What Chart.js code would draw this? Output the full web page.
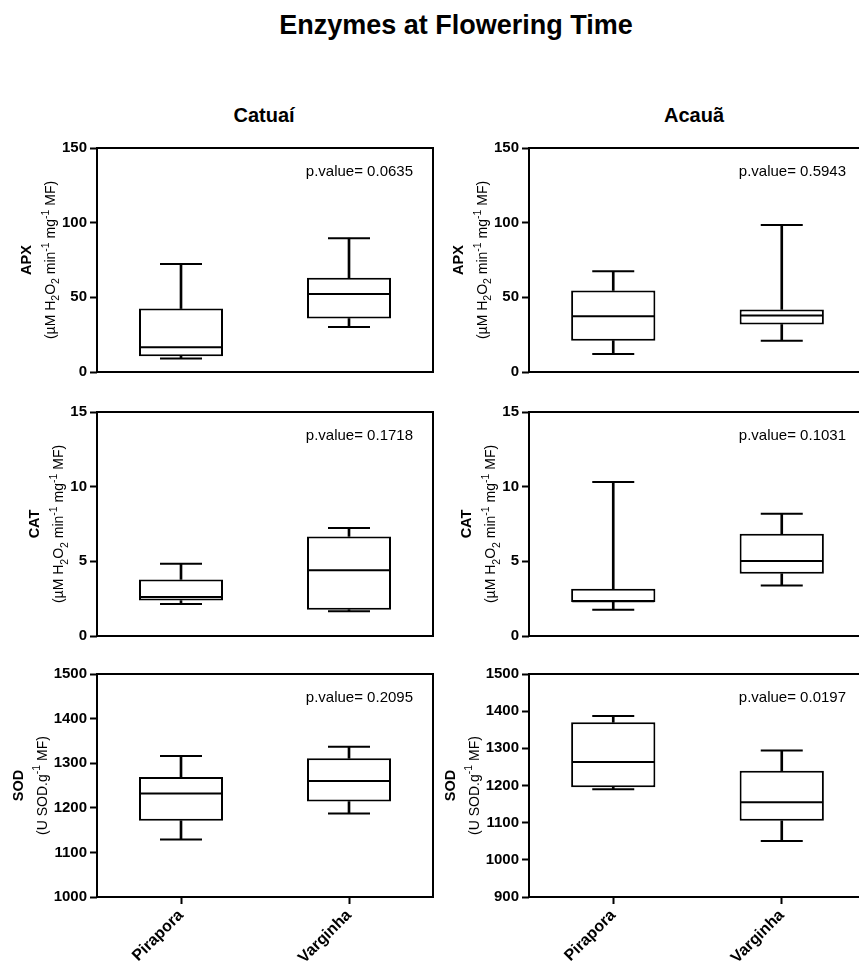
<!DOCTYPE html>
<html>
<head>
<meta charset="utf-8">
<script src="https://cdn.jsdelivr.net/npm/chart.js@4.4.0/dist/chart.umd.min.js"></script>
<style>
  body { margin: 0; width: 859px; height: 966px; overflow: hidden; background: #fff; position: relative;
         font-family: "Liberation Sans", Arial, sans-serif; }
  .t { position: absolute; font-weight: bold; white-space: nowrap; line-height: 1; transform: translateX(-50%); color: #000; }
  canvas { position: absolute; }
</style>
</head>
<body>
<div class="t" style="left:456px; top:12px; font-size:27px;">Enzymes at Flowering Time</div>
<div class="t" style="left:264px; top:105px; font-size:20px;">Catuaí</div>
<div class="t" style="left:694px; top:105px; font-size:20px;">Acauã</div>
<script>
const FONT = '"Liberation Sans", Arial, sans-serif';

const groups = ['Pirapora', 'Varginha'];

// five-number summaries per group: [min, q1, median, q3, max]
const catuaiApx = [[9.0, 10.5, 16.6, 42.5, 72.3], [30.2, 35.8, 52.2, 63.1, 89.6]];
const acauaApx  = [[12.1, 21.0, 37.4, 54.6, 67.4], [21.0, 31.8, 37.8, 41.9, 98.5]];
const catuaiCat = [[2.14, 2.37, 2.61, 3.79, 4.84], [1.65, 1.76, 4.40, 6.67, 7.23]];
const acauaCat  = [[1.76, 2.28, 2.32, 3.17, 10.31], [3.39, 4.17, 5.02, 6.85, 8.19]];
const catuaiSod = [[1129, 1171, 1232, 1269, 1316], [1187, 1214, 1260, 1311, 1337]];
const acauaSod  = [[1190, 1195, 1263, 1370, 1387], [1051, 1105, 1155, 1240, 1294]];

const catuaiPValues = ['0.0635', '0.1718', '0.2095'];
const acauaPValues  = ['0.5943', '0.1031', '0.0197'];

// [min, max, step]
const apxAxis = [0, 150, 50];
const catAxis = [0, 15, 5];
const sodAxisCatuai = [1000, 1500, 100];
const sodAxisAcaua = [900, 1500, 100];

const h2o2Unit = [['(µM H'], ['2', 'sub'], ['O'], ['2', 'sub'], [' min'], ['-1', 'sup'], [' mg'], ['-1', 'sup'], [' MF)']];
const sodUnit = [['(U SOD.g'], ['-1', 'sup'], [' MF)']];

function drawRich(ctx, segs, size) {
  const fs = s => (s[1] ? size * 0.75 : size);
  let w = 0;
  segs.forEach(s => { ctx.font = fs(s) + 'px ' + FONT; w += ctx.measureText(s[0]).width; });
  let x = -w / 2;
  ctx.textAlign = 'left';
  ctx.textBaseline = 'alphabetic';
  const base = size * 0.36;
  segs.forEach(s => {
    ctx.font = fs(s) + 'px ' + FONT;
    const dy = s[1] === 'sub' ? size * 0.3 : s[1] === 'sup' ? -size * 0.45 : 0;
    ctx.fillText(s[0], x, base + dy);
    x += ctx.measureText(s[0]).width;
  });
}

function makeDecor(pValue, name, unit) {
  return {
    id: 'decor',
    afterDraw(chart) {
      const ctx = chart.ctx, a = chart.chartArea;
      ctx.save();
      ctx.strokeStyle = '#000';
      ctx.lineWidth = 2;
      ctx.strokeRect(a.left, a.top, a.right - a.left, a.bottom - a.top);

      ctx.fillStyle = '#000';
      ctx.font = '15px ' + FONT;
      ctx.textAlign = 'right';
      ctx.textBaseline = 'middle';
      ctx.fillText('p.value= ' + pValue, a.right - 20, a.top + 24);

      // y axis title, placed left of the widest tick label
      ctx.font = 'bold 15px ' + FONT;
      let maxW = 0;
      chart.scales.y.ticks.forEach(t => { maxW = Math.max(maxW, ctx.measureText(String(t.value)).width); });
      const labelLeft = a.left - 10 - maxW;
      const subX = labelLeft - 12;
      const boldX = subX - 23;
      const cy = (a.top + a.bottom) / 2;

      ctx.save();
      ctx.translate(boldX, cy);
      ctx.rotate(-Math.PI / 2);
      ctx.font = 'bold 14.5px ' + FONT;
      ctx.textAlign = 'center';
      ctx.textBaseline = 'middle';
      ctx.fillText(name, 0, 0);
      ctx.restore();

      ctx.save();
      ctx.translate(subX, cy);
      ctx.rotate(-Math.PI / 2);
      drawRich(ctx, unit, 14);
      ctx.restore();

      ctx.restore();
    }
  };
}

function panel(x, y, stats, axis, pValue, name, unit, bottomRow, rightPad) {
  const c = document.createElement('canvas');
  c.width = 440;
  c.height = bottomRow ? 306 : 250;
  c.style.left = x + 'px';
  c.style.top = y + 'px';
  document.body.appendChild(c);

  const capStyle = r => ({ type: 'line', showLine: false, pointStyle: 'line', pointRadius: r, pointHoverRadius: r,
                           pointBorderWidth: 2, pointBorderColor: '#000', borderColor: '#000', order: 0, clip: false });

  new Chart(c, {
    data: {
      labels: groups,
      datasets: [
        { type: 'bar', data: stats.map(v => [v[0], v[1]]), backgroundColor: '#000', borderWidth: 0,
          barThickness: 2, grouped: false, order: 3 },
        { type: 'bar', data: stats.map(v => [v[3], v[4]]), backgroundColor: '#000', borderWidth: 0,
          barThickness: 2, grouped: false, order: 3 },
        { type: 'bar', data: stats.map(v => [v[1], v[3]]), backgroundColor: '#fff', borderColor: '#000',
          borderWidth: 2, borderSkipped: false, barPercentage: 0.5, categoryPercentage: 1, grouped: false, order: 2 },
        Object.assign({ data: stats.map(v => v[2]) }, capStyle(41)),
        Object.assign({ data: stats.map(v => v[0]) }, capStyle(21)),
        Object.assign({ data: stats.map(v => v[4]) }, capStyle(21))
      ]
    },
    options: {
      responsive: false,
      animation: false,
      events: [],
      layout: { autoPadding: false, padding: { top: 14, right: rightPad, bottom: bottomRow ? 0 : 12, left: 0 } },
      plugins: { legend: { display: false }, tooltip: { enabled: false } },
      scales: {
        x: {
          type: 'category',
          offset: true,
          display: bottomRow,
          border: { display: false },
          grid: { offset: false, drawOnChartArea: false, tickLength: 7, tickWidth: 2, tickColor: '#000' },
          ticks: { color: '#000', font: { family: FONT, size: 16, weight: 'bold' }, minRotation: 45, maxRotation: 45, padding: 2 },
          afterFit: s => { s.height = bottomRow ? 69 : 0; }
        },
        y: {
          min: axis[0],
          max: axis[1],
          border: { display: false },
          grid: { drawOnChartArea: false, tickLength: 7, tickWidth: 2, tickColor: '#000' },
          ticks: { stepSize: axis[2], color: '#000', padding: 3, font: { family: FONT, size: 15, weight: 'bold' },
                   callback: v => String(v) },
          afterFit: s => { s.width = 97; }
        }
      }
    },
    plugins: [makeDecor(pValue, name, unit)]
  });
}

panel(0, 134, catuaiApx, apxAxis, catuaiPValues[0], 'APX', h2o2Unit, false, 7);
panel(432, 134, acauaApx, apxAxis, acauaPValues[0], 'APX', h2o2Unit, false, 6);
panel(0, 398, catuaiCat, catAxis, catuaiPValues[1], 'CAT', h2o2Unit, false, 7);
panel(432, 398, acauaCat, catAxis, acauaPValues[1], 'CAT', h2o2Unit, false, 6);
panel(0, 660, catuaiSod, sodAxisCatuai, catuaiPValues[2], 'SOD', sodUnit, true, 7);
panel(432, 660, acauaSod, sodAxisAcaua, acauaPValues[2], 'SOD', sodUnit, true, 6);
</script>
</body>
</html>
